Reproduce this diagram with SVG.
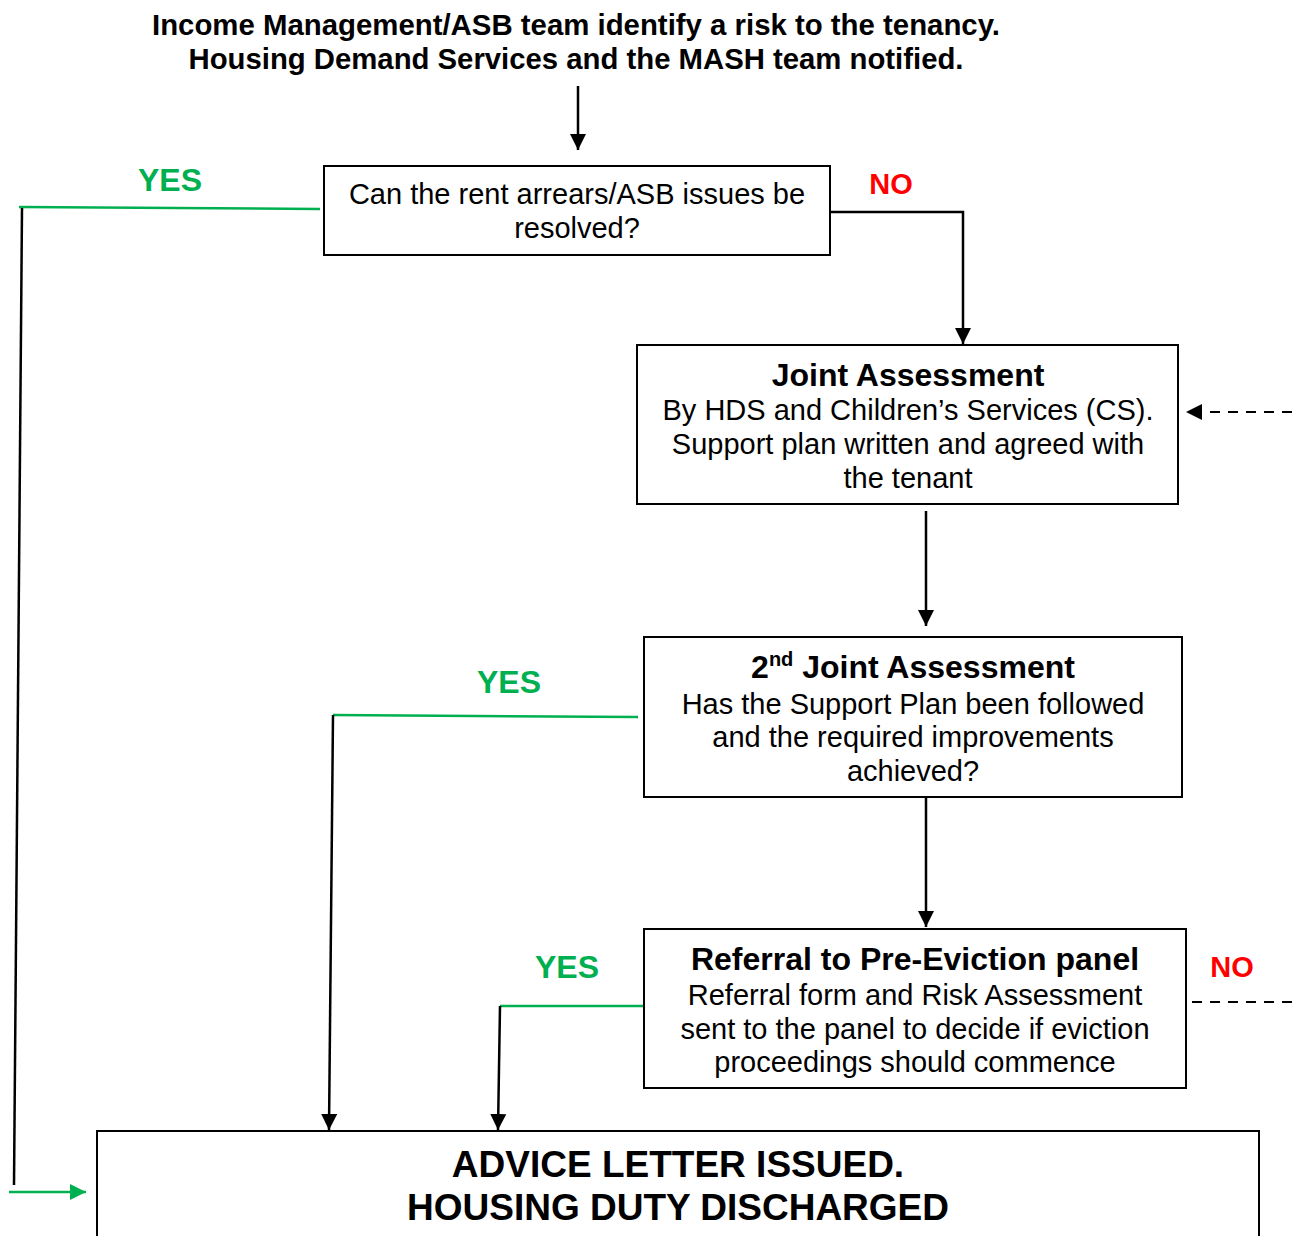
<svg xmlns="http://www.w3.org/2000/svg" width="1292" height="1236" viewBox="0 0 1292 1236">
<defs>
<marker id="ab" viewBox="0 0 10 10" refX="10" refY="5" markerWidth="16" markerHeight="16" markerUnits="userSpaceOnUse" orient="auto"><path d="M0,0 L10,5 L0,10 Z" fill="#000"/></marker>
<marker id="ag" viewBox="0 0 10 10" refX="10" refY="5" markerWidth="16" markerHeight="16" markerUnits="userSpaceOnUse" orient="auto"><path d="M0,0 L10,5 L0,10 Z" fill="#00B050"/></marker>
</defs>
<style>
.box{fill:#fff;stroke:#000;stroke-width:2}
text{font-family:"Liberation Sans",Arial,sans-serif;text-anchor:middle;fill:#000}
.t{font-size:29px}
.b{font-weight:bold}
.h{font-weight:bold;font-size:32px}
.g{fill:#00B050;font-weight:bold;font-size:32px}
.r{fill:#FF0000;font-weight:bold;font-size:29px}
.k{stroke:#000;stroke-width:2.5;fill:none}
.gl{stroke:#00B050;stroke-width:2.5;fill:none}
.d{stroke:#000;stroke-width:2;fill:none;stroke-dasharray:10,8}
</style>
<rect width="1292" height="1236" fill="#fff"/>
<g id="title">
<text class="t b" x="576" y="35" textLength="848" lengthAdjust="spacingAndGlyphs">Income Management/ASB team identify a risk to the tenancy.</text>
<text class="t b" x="576" y="69" textLength="775" lengthAdjust="spacingAndGlyphs">Housing Demand Services and the MASH team notified.</text>
</g>
<g id="connectors">
<line class="k" x1="578" y1="86" x2="578" y2="150" marker-end="url(#ab)"/>
<polyline class="k" points="830,212 963,212 963,344" marker-end="url(#ab)"/>
<line class="k" x1="926" y1="511" x2="926" y2="626" marker-end="url(#ab)"/>
<line class="k" x1="926" y1="797" x2="926" y2="927" marker-end="url(#ab)"/>
<line class="gl" x1="320" y1="209" x2="19" y2="207"/>
<line class="k" x1="22" y1="208" x2="14" y2="1185"/>
<line class="gl" x1="9" y1="1192" x2="86" y2="1192" marker-end="url(#ag)"/>
<line class="gl" x1="638" y1="717" x2="333" y2="715"/>
<line class="k" x1="333" y1="715" x2="329" y2="1130" marker-end="url(#ab)"/>
<line class="gl" x1="645" y1="1006" x2="500" y2="1006"/>
<line class="k" x1="500" y1="1006" x2="498" y2="1130" marker-end="url(#ab)"/>
<line class="d" x1="1292" y1="412" x2="1186" y2="412" marker-end="url(#ab)"/>
<line class="d" x1="1192" y1="1002" x2="1292" y2="1002"/>
<text class="g" x="170" y="191">YES</text>
<text class="r" x="891" y="194">NO</text>
<text class="g" x="509" y="693">YES</text>
<text class="g" x="567" y="978">YES</text>
<text class="r" x="1232" y="977">NO</text>
</g>
<g id="resolve">
<rect class="box" x="324" y="166" width="506" height="89"/>
<text class="t" x="577" y="204">Can the rent arrears/ASB issues be</text>
<text class="t" x="577" y="238">resolved?</text>
</g>
<g id="joint">
<rect class="box" x="637" y="345" width="541" height="159"/>
<text class="h" x="908" y="386">Joint Assessment</text>
<text class="t" x="908" y="420">By HDS and Children’s Services (CS).</text>
<text class="t" x="908" y="454">Support plan written and agreed with</text>
<text class="t" x="908" y="488">the tenant</text>
</g>
<g id="joint2">
<rect class="box" x="644" y="637" width="538" height="160"/>
<text class="h" x="913" y="678">2<tspan style="font-size:20px" dy="-12">nd</tspan><tspan dy="12"> Joint Assessment</tspan></text>
<text class="t" x="913" y="714">Has the Support Plan been followed</text>
<text class="t" x="913" y="747">and the required improvements</text>
<text class="t" x="913" y="781">achieved?</text>
</g>
<g id="referral">
<rect class="box" x="644" y="929" width="542" height="159"/>
<text class="h" x="915" y="970">Referral to Pre-Eviction panel</text>
<text class="t" x="915" y="1005">Referral form and Risk Assessment</text>
<text class="t" x="915" y="1039">sent to the panel to decide if eviction</text>
<text class="t" x="915" y="1072">proceedings should commence</text>
</g>
<g id="advice">
<rect class="box" x="97" y="1131" width="1162" height="120"/>
<text class="b" style="font-size:37px" x="678" y="1177">ADVICE LETTER ISSUED.</text>
<text class="b" style="font-size:37px" x="678" y="1220">HOUSING DUTY DISCHARGED</text>
</g>
</svg>
